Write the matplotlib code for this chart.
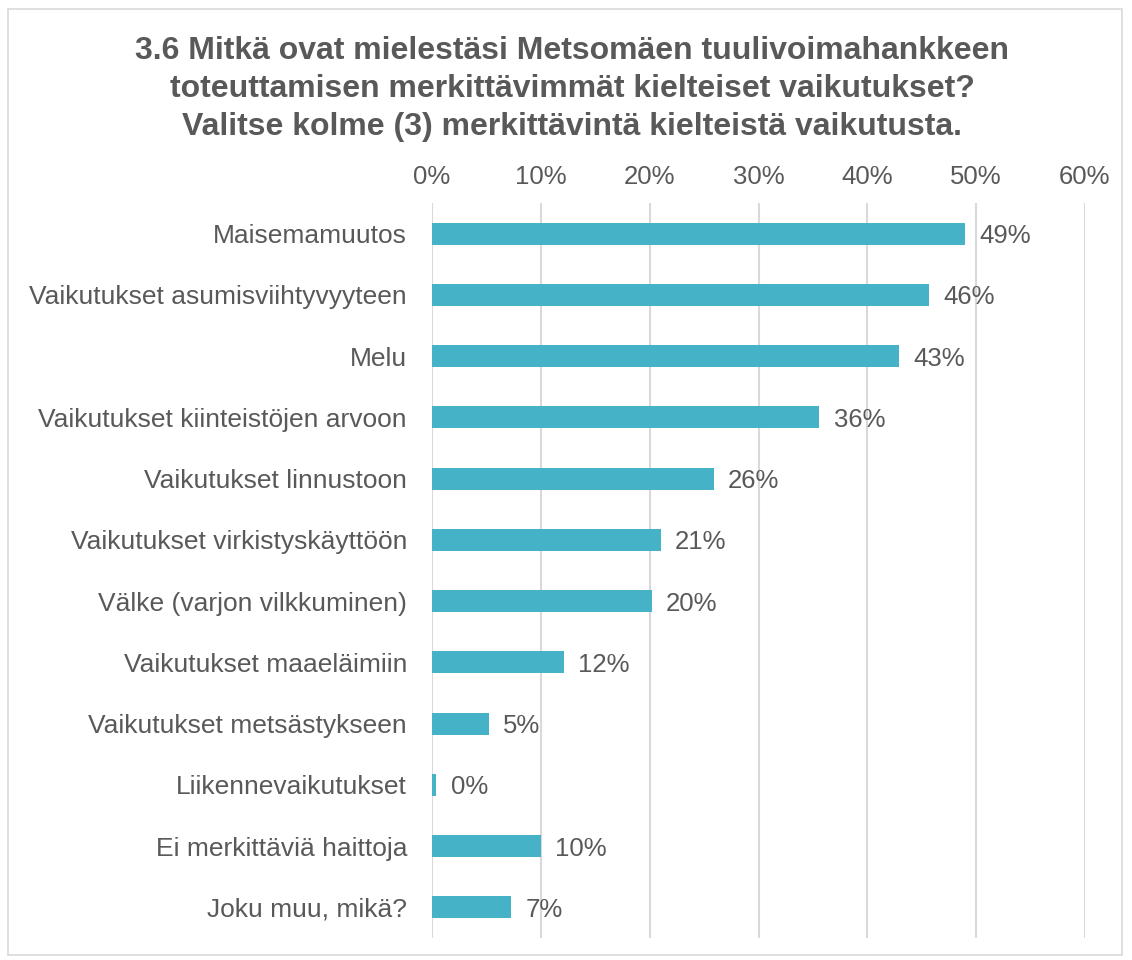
import matplotlib.pyplot as plt
from matplotlib.patches import Rectangle

# Data
categories = [
    "Maisemamuutos",
    "Vaikutukset asumisviihtyvyyteen",
    "Melu",
    "Vaikutukset kiinteistöjen arvoon",
    "Vaikutukset linnustoon",
    "Vaikutukset virkistyskäyttöön",
    "Välke (varjon vilkkuminen)",
    "Vaikutukset maaeläimiin",
    "Vaikutukset metsästykseen",
    "Liikennevaikutukset",
    "Ei merkittäviä haittoja",
    "Joku muu, mikä?",
]
values = [49.0, 45.7, 42.9, 35.6, 25.9, 21.0, 20.2, 12.1, 5.2, 0.4, 10.0, 7.3]
labels = ["49%", "46%", "43%", "36%", "26%", "21%", "20%", "12%", "5%", "0%", "10%", "7%"]
ticks = [0, 10, 20, 30, 40, 50, 60]

plt.rcParams['font.family'] = ['Liberation Sans', 'DejaVu Sans']
text_col = '#595959'
bar_col = '#45B2C7'

fig = plt.figure(figsize=(11.32, 9.6), dpi=100)
ax = fig.add_axes([432 / 1132, 1 - 938 / 960, (1085 - 432) / 1132, (938 - 203) / 960])

y = list(range(len(categories)))
ax.barh(y, values, height=0.36, color=bar_col, zorder=3)
for yi, v, lab in zip(y, values, labels):
    ax.text(v + 1.3, yi + 0.04, lab, va='center', ha='left', fontsize=18.5, color=text_col)

ax.set_xlim(0, 60)
ax.set_ylim(len(categories) - 0.5, -0.5)
ax.set_xticks(ticks)
ax.set_xticklabels([f"{t}%" for t in ticks], fontsize=18.5, color=text_col)
ax.xaxis.tick_top()
ax.tick_params(axis='x', length=0, pad=10)
ax.set_yticks(y)
ax.set_yticklabels(categories, fontsize=19, color=text_col)
ax.tick_params(axis='y', length=0, pad=18)
ax.grid(axis='x', color='#D9D9D9', linewidth=1.5, zorder=0)
for s in ax.spines.values():
    s.set_visible(False)

fig.text(572 / 1132, 1 - 89 / 960,
         "3.6 Mitkä ovat mielestäsi Metsomäen tuulivoimahankkeen\n"
         "toteuttamisen merkittävimmät kielteiset vaikutukset?\n"
         "Valitse kolme (3) merkittävintä kielteistä vaikutusta.",
         ha='center', va='center', fontsize=23, fontweight='bold',
         color=text_col, linespacing=1.33)

fig.patches.append(Rectangle((8 / 1132, 1 - 955 / 960), 1114 / 1132, 946 / 960,
                             transform=fig.transFigure, fill=False,
                             edgecolor='#D9D9D9', linewidth=1.2))

fig.savefig("out.png", dpi=100)
